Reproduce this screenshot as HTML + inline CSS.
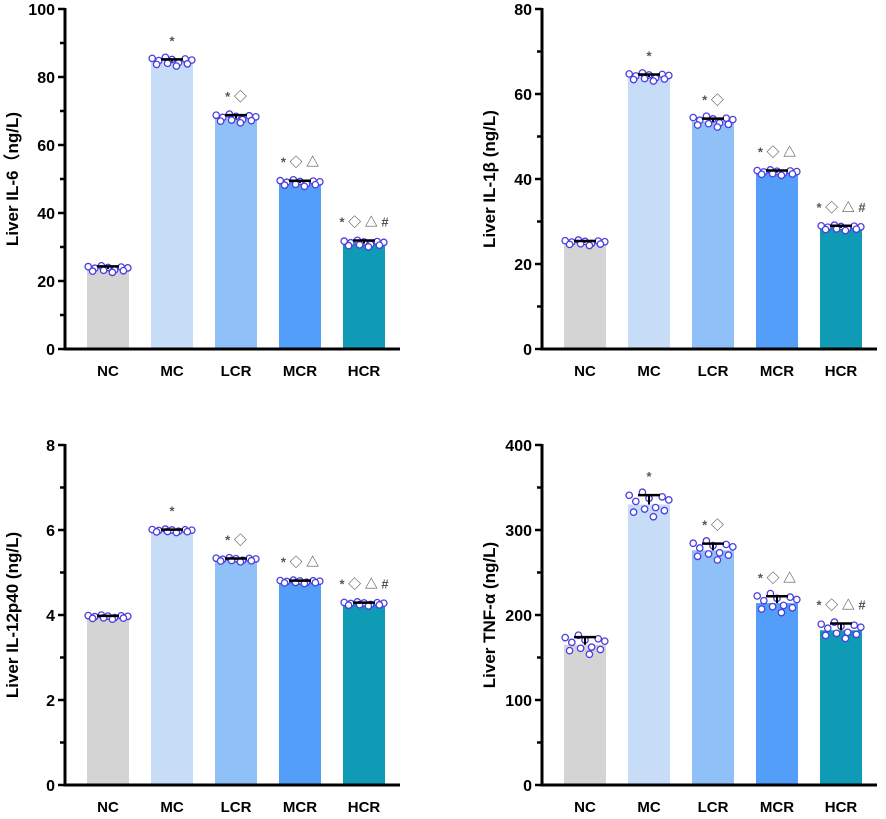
<!DOCTYPE html>
<html><head><meta charset="utf-8"><style>
body{margin:0;background:#fff;width:886px;height:814px;overflow:hidden}
svg text{font-family:"Liberation Sans","Noto Sans CJK SC",sans-serif;font-weight:bold}
</style></head><body>
<svg id="c" width="886" height="814"></svg>
<script>
const categories=["NC","MC","LCR","MCR","HCR"];
const colors=["#d4d4d4","#c6dcf7","#8fc0f8","#539ef8","#0f9ab5"];
const il6Means=[23.5,84.5,67.8,48.8,31];
const il6Err=[0.8,0.7,1.0,0.7,0.9];
const il6Spread=[1.2,1.6,1.6,1.2,1.2];
const il1Means=[25,64,53.5,41.5,28.5];
const il1Err=[0.4,0.6,0.7,0.5,0.5];
const il1Spread=[0.8,1.2,1.6,0.8,0.8];
const il12Means=[3.95,5.98,5.3,4.78,4.26];
const il12Err=[0.03,0.03,0.03,0.03,0.03];
const il12Spread=[0.06,0.05,0.06,0.05,0.06];
const tnfMeans=[165,330,276,214,182];
const tnfErr=[9,11,8,8,8];
const tnfSpread=[14,18,14,14,12];
const il6Ticks=[0,20,40,60,80,100];
const il1Ticks=[0,20,40,60,80];
const il12Ticks=[0,2,4,6,8];
const tnfTicks=[0,100,200,300,400];
const sigMarks=["","*","* ◇","* ◇ △","* ◇ △ #"];
const jitterPattern=[[-0.45,0.6],[-0.3,0.2],[-0.15,0.8],[0,0.4],[0.15,-0.2],[0.3,0.5],[0.45,0.3],[-0.35,-0.5],[-0.1,-0.3],[0.1,-0.8],[0.35,-0.4],[0.0,-0.6]];
const NS="http://www.w3.org/2000/svg";
const svg=document.getElementById('c');
function mk(t,a,p){const e=document.createElementNS(NS,t);for(const k in a)e.setAttribute(k,a[k]);(p||svg).appendChild(e);return e;}
function panel(name,ax,y0,ticks,means,errs,spread,label){
  const g=mk('g',{});
  
  
  const max=ticks[ticks.length-1];
  const y=v=>y0-v/max*340;
  const x=i=>ax+22+i*64;
  means.forEach((m,i)=>{
    const r=mk('rect',{x:x(i),y:y(m),width:42,height:y0-y(m),fill:colors[i]},g);
    
    
    jitterPattern.slice(0,11).forEach(p=>{
      const c=mk('circle',{cx:x(i)+21+p[0]*44,cy:y(m+p[1]*spread[i]),r:3.2,fill:'#fff',stroke:'#4a3ee0','stroke-width':1.3},g);
      
      
    });
    const top=y(m+errs[i]);
    mk('line',{x1:x(i)+21,x2:x(i)+21,y1:y(m),y2:top,stroke:'#000','stroke-width':2},g);
    mk('line',{x1:x(i)+10,x2:x(i)+32,y1:top,y2:top,stroke:'#000','stroke-width':2.5},g);
    if(sigMarks[i]){const t=mk('text',{x:x(i)+21,y:top-14,'text-anchor':'middle','font-size':13,fill:'#555','font-weight':'normal'},g);t.textContent=sigMarks[i];
      }
    const xl=mk('text',{x:x(i)+21,y:y0+27,'text-anchor':'middle','font-size':15,fill:'#000'},g);
    xl.textContent=categories[i];
    
    
  });
  mk('line',{x1:ax,x2:ax,y1:y(max)-1,y2:y0+1.5,stroke:'#000','stroke-width':3},g);
  mk('line',{x1:ax-1.5,x2:ax+335,y1:y0,y2:y0,stroke:'#000','stroke-width':3},g);
  ticks.forEach((t,k)=>{
    mk('line',{x1:ax-7,x2:ax,y1:y(t),y2:y(t),stroke:'#000','stroke-width':2.5},g);
    if(k<ticks.length-1){const mv=(t+ticks[k+1])/2;mk('line',{x1:ax-5,x2:ax,y1:y(mv),y2:y(mv),stroke:'#000','stroke-width':2.5},g);}
    const tl=mk('text',{x:ax-10,y:y(t)+6,'text-anchor':'end','font-size':16,fill:'#000'},g);
    tl.textContent=t;
    
    
  });
  const yl=mk('text',{x:0,y:0,'text-anchor':'middle','font-size':17,fill:'#000',transform:`translate(${ax-47},${y0-170}) rotate(-90)`},g);
  yl.textContent=label;
  
  
}
panel('il6',65,349,il6Ticks,il6Means,il6Err,il6Spread,'Liver IL-6（ng/L)');
panel('il1b',542,349,il1Ticks,il1Means,il1Err,il1Spread,'Liver IL-1β (ng/L)');
panel('il12p40',65,785,il12Ticks,il12Means,il12Err,il12Spread,'Liver IL-12p40 (ng/L)');
panel('tnf',542,785,tnfTicks,tnfMeans,tnfErr,tnfSpread,'Liver TNF-α (ng/L)');
</script>
</body></html>
